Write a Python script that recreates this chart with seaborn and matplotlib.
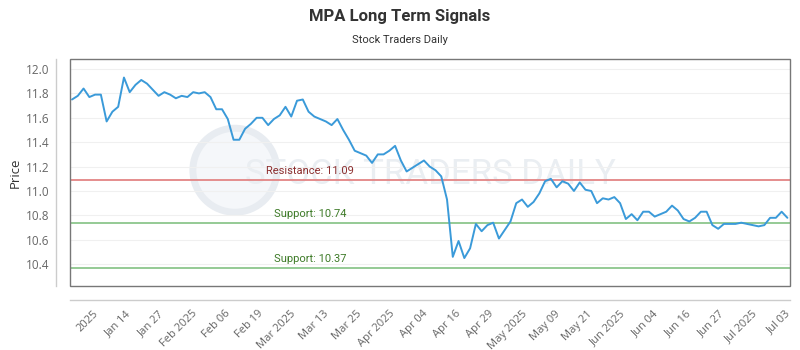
import matplotlib
matplotlib.use("Agg")
import matplotlib.pyplot as plt
import seaborn as sns
import numpy as np
import pandas as pd
from matplotlib.patches import Rectangle, Ellipse

# ---- data ----
prices = [
    11.75, 11.78, 11.84, 11.77, 11.79, 11.79, 11.57, 11.65, 11.69, 11.93,
    11.81, 11.87, 11.91, 11.88, 11.83, 11.78, 11.81, 11.79, 11.76, 11.78,
    11.77, 11.81, 11.80, 11.81, 11.77, 11.67, 11.67, 11.59, 11.42, 11.42,
    11.51, 11.55, 11.60, 11.60, 11.54, 11.59, 11.62, 11.69, 11.61, 11.74,
    11.75, 11.65, 11.61, 11.59, 11.57, 11.54, 11.59, 11.50, 11.42, 11.33,
    11.31, 11.29, 11.23, 11.30, 11.30, 11.33, 11.37, 11.25, 11.16, 11.19,
    11.22, 11.25, 11.20, 11.17, 11.12, 10.93, 10.46, 10.59, 10.45, 10.53,
    10.73, 10.67, 10.72, 10.74, 10.61, 10.68, 10.75, 10.90, 10.93, 10.87,
    10.91, 10.98, 11.08, 11.10, 11.03, 11.08, 11.06, 11.00, 11.07, 11.01,
    11.00, 10.90, 10.94, 10.93, 10.95, 10.90, 10.77, 10.81, 10.76, 10.83,
    10.83, 10.79, 10.81, 10.83, 10.88, 10.84, 10.77, 10.75, 10.78, 10.83,
    10.83, 10.72, 10.69, 10.73, 10.73, 10.73, 10.74, 10.73, 10.72, 10.71,
    10.72, 10.78, 10.78, 10.83, 10.78,
]
x_tick_labels = [
    "2025", "Jan 14", "Jan 27", "Feb 2025", "Feb 06", "Feb 19", "Mar 2025",
    "Mar 13", "Mar 25", "Apr 2025", "Apr 04", "Apr 16", "Apr 29", "May 2025",
    "May 09", "May 21", "Jun 2025", "Jun 04", "Jun 16", "Jun 27", "Jul 2025",
    "Jul 03",
]
y_ticks = [10.4, 10.6, 10.8, 11.0, 11.2, 11.4, 11.6, 11.8, 12.0]
resistance = 11.09
supports = [10.74, 10.37]

title = "MPA Long Term Signals"
subtitle = "Stock Traders Daily"

# ---- plot ----
sns.set_theme(style="white")
plt.rcParams["font.family"] = ["Open Sans", "DejaVu Sans"]

df = pd.DataFrame({"idx": np.arange(len(prices)), "price": prices})

fig = plt.figure(figsize=(8, 3.5), dpi=100)
ax = fig.add_axes([70 / 800, 1 - 286 / 350, 720 / 800, 227 / 350])

# offset axis lines (set first: set_position resets tick settings)
for side in ["top", "right"]:
    ax.spines[side].set_visible(False)
ax.spines["left"].set_position(("outward", 10))
ax.spines["bottom"].set_position(("outward", 10))
for side in ["left", "bottom"]:
    ax.spines[side].set_color("#cccccc")
    ax.spines[side].set_linewidth(1)

# watermark
ax.add_patch(Ellipse((0.229, 0.51), 84 / 720, 84 / 227, transform=ax.transAxes,
                     facecolor="#f5f7fa", edgecolor="#e8ecf1", lw=5,
                     zorder=0))
ax.text(0.50, 0.49, "STOCK TRADERS DAILY", transform=ax.transAxes,
        fontsize=25, color="#eaeef2", ha="center", va="center",
        family=["Roboto", "DejaVu Sans"], zorder=0.5)

for yt in y_ticks:
    ax.axhline(yt, color="#f0f0f0", lw=0.8, zorder=1)

sns.lineplot(data=df, x="idx", y="price", ax=ax, color="#3a9ad9",
             lw=1.4, zorder=4)

ax.axhline(resistance, color="#e38585", lw=1.3, zorder=3)
ax.text(0.333, resistance + 0.03, f"Resistance: {resistance:.2f}",
        transform=ax.get_yaxis_transform(), ha="center", va="bottom",
        fontsize=8, color="#8c2f2f", family=["Roboto", "DejaVu Sans"],
        zorder=5)
for s in supports:
    ax.axhline(s, color="#8cc68c", lw=1.3, zorder=3)
    ax.text(0.333, s + 0.03, f"Support: {s:.2f}",
            transform=ax.get_yaxis_transform(), ha="center", va="bottom",
            fontsize=8, color="#3d7a27", family=["Roboto", "DejaVu Sans"],
            zorder=5)

ax.set_xlim(-0.35, 124.45)
ax.set_ylim(10.221, 12.082)
ax.set_yticks(y_ticks)
ax.set_yticklabels([f"{v:.1f}" for v in y_ticks])
ax.set_xticks(np.linspace(3.6, 123.6, len(x_tick_labels)))
ax.set_xticklabels(x_tick_labels)
ax.tick_params(axis="x", length=0, pad=6, labelsize=8, labelcolor="#666666")
ax.tick_params(axis="y", length=0, pad=5, labelsize=8.5, labelcolor="#666666")
plt.setp(ax.get_xticklabels(), rotation=45, ha="right",
         rotation_mode="anchor")
ax.set_xlabel("")
ax.set_ylabel("Price", fontsize=9.5, color="#333333", labelpad=3)

# plot frame
ax.add_patch(Rectangle((0, 0), 1, 1, transform=ax.transAxes, fill=False,
                       edgecolor="#777777", lw=1, clip_on=False, zorder=6))

fig.text(0.5, 1 - 16 / 350, title, ha="center", va="center",
         fontsize=12, fontweight="bold", color="#333333",
         family=["Roboto", "DejaVu Sans"])
fig.text(0.5, 1 - 40 / 350, subtitle, ha="center", va="center",
         fontsize=8, color="#333333", family=["Roboto", "DejaVu Sans"])

fig.savefig("out.png", dpi=100)
